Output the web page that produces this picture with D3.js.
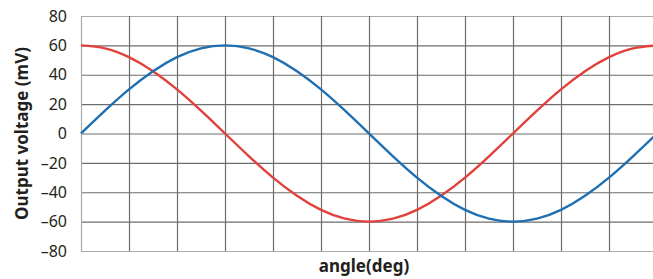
<!DOCTYPE html>
<html lang="en">
  <head>
    <meta charset="UTF-8" />
    <title>Output voltage vs angle</title>
    <script src="https://d3js.org/d3.v7.min.js"></script>
    <style>
      body {
        margin: 0;
        padding: 0;
        background: #fff;
      }
      svg {
        display: block;
        font-family: "Noto Sans", sans-serif;
      }
      .tick text {
        font-size: 16px;
        fill: #231f20;
      }
      .axis-title {
        font-size: 17px;
        font-weight: bold;
        fill: #231f20;
      }
    </style>
  </head>
  <body>
    <svg width="653" height="279"></svg>
    <script>
      // angles read every 15 degrees
      const angles = [
        0, 15, 30, 45, 60, 75, 90, 105, 120, 135, 150, 165, 180, 195, 210, 225,
        240, 255, 270, 285, 300, 315, 330, 345, 360,
      ];
      const blueValues = [
        0, 15.5, 30, 42.4, 52, 58, 60, 58, 52, 42.4, 30, 15.5, 0, -15.5, -30,
        -42.4, -52, -58, -60, -58, -52, -42.4, -30, -15.5, 0,
      ];
      const redValues = [
        60, 58, 52, 42.4, 30, 15.5, 0, -15.5, -30, -42.4, -52, -58, -60, -58,
        -52, -42.4, -30, -15.5, 0, 15.5, 30, 42.4, 52, 58, 60,
      ];
      const yTicks = [80, 60, 40, 20, 0, -20, -40, -60, -80];
      const xGrid = [0, 30, 60, 90, 120, 150, 180, 210, 240, 270, 300, 330, 360];

      const svg = d3.select("svg");
      const plotLeft = 81,
        plotRight = 657,
        plotTop = 16,
        plotBottom = 251;

      const x = d3.scaleLinear().domain([0, 360]).range([plotLeft, plotRight]);
      const y = d3.scaleLinear().domain([-80, 80]).range([plotBottom, plotTop]);

      // grid
      svg
        .append("g")
        .selectAll("line")
        .data(yTicks)
        .join("line")
        .attr("x1", plotLeft)
        .attr("x2", plotRight)
        .attr("y1", (d) => y(d) + 0.5)
        .attr("y2", (d) => y(d) + 0.5)
        .attr("stroke", (d) => (Math.abs(d) === 80 ? "#aaa" : "#6d6d6d"))
        .attr("stroke-width", 1.2);

      svg
        .append("g")
        .selectAll("line")
        .data(xGrid)
        .join("line")
        .attr("x1", (d) => x(d) + 0.5)
        .attr("x2", (d) => x(d) + 0.5)
        .attr("y1", plotTop)
        .attr("y2", plotBottom)
        .attr("stroke", (d) => (d === 0 ? "#aaa" : "#6d6d6d"))
        .attr("stroke-width", 1.2);

      // y axis labels
      const yAxis = svg
        .append("g")
        .attr("transform", `translate(${plotLeft},0)`)
        .call(
          d3
            .axisLeft(y)
            .tickValues(yTicks)
            .tickSize(0)
            .tickPadding(14)
            .tickFormat((d) => (d < 0 ? "–" + Math.abs(d) : d))
        );
      yAxis.select(".domain").remove();
      yAxis.attr("font-family", null).attr("font-size", null);

      // series
      const line = (vals) =>
        d3
          .line()
          .x((d, i) => x(angles[i]))
          .y((d) => y(d))
          .curve(d3.curveNatural)(vals);

      svg
        .append("path")
        .attr("d", line(redValues))
        .attr("fill", "none")
        .attr("stroke", "#e1403b")
        .attr("stroke-width", 2.4);

      svg
        .append("path")
        .attr("d", line(blueValues))
        .attr("fill", "none")
        .attr("stroke", "#1f6fb2")
        .attr("stroke-width", 2.4);

      // titles
      svg
        .append("text")
        .attr("class", "axis-title")
        .attr("x", 364)
        .attr("y", 272)
        .attr("text-anchor", "middle")
        .text("angle(deg)");

      svg
        .append("text")
        .attr("class", "axis-title")
        .attr("transform", `translate(28,${(plotTop + plotBottom) / 2}) rotate(-90)`)
        .attr("text-anchor", "middle")
        .text("Output voltage (mV)");
    </script>
  </body>
</html>
